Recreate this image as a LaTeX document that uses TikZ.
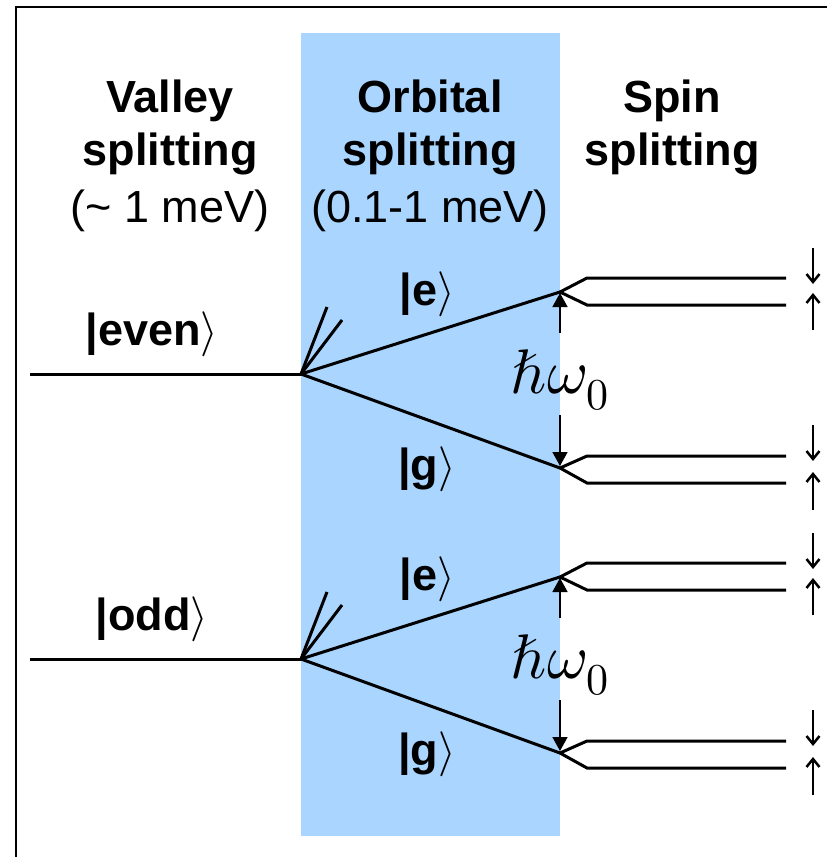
\documentclass[tikz,border=0pt]{standalone}
\usepackage{fontspec}
\usepackage{unicode-math}
\setmainfont{Liberation Sans}
\setmathfont{Latin Modern Math}
\usetikzlibrary{arrows.meta}
\definecolor{bandblue}{RGB}{169,213,254}
\tikzset{
  txt/.style={inner sep=0pt, anchor=base, font=\fontsize{45}{54}\selectfont},
  btxt/.style={txt, font=\fontsize{45}{54}\selectfont\bfseries},
  level/.style={line width=3pt, line join=miter},
  spinlevel/.style={line width=3pt, line join=miter},
  gaparrow/.style={line width=1.5pt, -{Triangle[width=15pt,length=14pt]}},
  spinarrow/.style={line width=2.5pt, -{Straight Barb[width=13pt,length=8pt]}},
  hwlabel/.style={inner sep=0pt, font=\fontsize{63}{72}\selectfont}
}
\newcommand{\levelgroup}[3]{%
  \coordinate (#1l) at (30,#2+374);
  \coordinate (#1v) at (301,#2+374);
  \coordinate (#1f1) at (327,#2+307);
  \coordinate (#1f2) at (342,#2+320);
  \coordinate (#1e) at (560,#2+292);
  \coordinate (#1g) at (560,#2+468);
  \coordinate (#1eu) at (587,#2+278);
  \coordinate (#1el) at (587,#2+305);
  \coordinate (#1eue) at (786,#2+278);
  \coordinate (#1ele) at (786,#2+305);
  \coordinate (#1gu) at (587,#2+456);
  \coordinate (#1gl) at (587,#2+483);
  \coordinate (#1gue) at (786,#2+456);
  \coordinate (#1gle) at (786,#2+483);
  \coordinate (#1ha) at (560,#2+333);
  \coordinate (#1hb) at (560,#2+415);
  \coordinate (#1sa1) at (813,#2+248);
  \coordinate (#1sa2) at (813,#2+284);
  \coordinate (#1sb1) at (813,#2+330);
  \coordinate (#1sb2) at (813,#2+293);
  \coordinate (#1sc1) at (813,#2+425);
  \coordinate (#1sc2) at (813,#2+461);
  \coordinate (#1sd1) at (813,#2+510);
  \coordinate (#1sd2) at (813,#2+472);
  \draw[level] (#1l) -- (#1v);
  \draw[level] (#1v) -- (#1e);
  \draw[level] (#1v) -- (#1g);
  \draw[level] (#1v) -- (#1f1);
  \draw[level] (#1v) -- (#1f2);
  \draw[spinlevel] (#1eue) -- (#1eu) -- (#1e) -- (#1el) -- (#1ele);
  \draw[spinlevel] (#1gue) -- (#1gu) -- (#1g) -- (#1gl) -- (#1gle);
  \draw[gaparrow, shorten >=1pt] (#1ha) -- (#1e);
  \draw[gaparrow, shorten >=2pt] (#1hb) -- (#1g);
  \draw[spinarrow] (#1sa1) -- (#1sa2);
  \draw[spinarrow] (#1sb1) -- (#1sb2);
  \draw[spinarrow] (#1sc1) -- (#1sc2);
  \draw[spinarrow] (#1sd1) -- (#1sd2);
  \node[btxt] (#1ket) at (152,#2+345) {|#3$\rangle$};
  \node[btxt] (#1eket) at (427,#2+305) {|e$\rangle$};
  \node[btxt] (#1gket) at (427,#2+480) {|g$\rangle$};
  \node[hwlabel] (#1hw) at (560,#2+380) {$\hbar\omega_0$};
}
\begin{document}
\begin{tikzpicture}[x=1pt,y=-1pt]
  \useasboundingbox (0,0) rectangle (827,857);
  \fill[white] (0,0) rectangle (827,857);
  \fill[bandblue] (301,33) rectangle (560,836);
  \draw[line width=2pt] (16,857) -- (16,7) -- (827,7);
  % headers
  \node[btxt] (valley1) at (170,112) {Valley};
  \node[btxt] (valley2) at (170,165) {splitting};
  \node[txt]  (valley3) at (170,222) {(\char`~{} 1 meV)};
  \node[btxt] (orb1) at (430,112) {Orbital};
  \node[btxt] (orb2) at (430,165) {splitting};
  \node[txt]  (orb3) at (430,222) {(0.1-1 meV)};
  \node[btxt] (spin1) at (672,112) {Spin};
  \node[btxt] (spin2) at (672,165) {splitting};
  \levelgroup{ev}{0}{even}
  \levelgroup{od}{285}{odd}
\end{tikzpicture}
\end{document}
